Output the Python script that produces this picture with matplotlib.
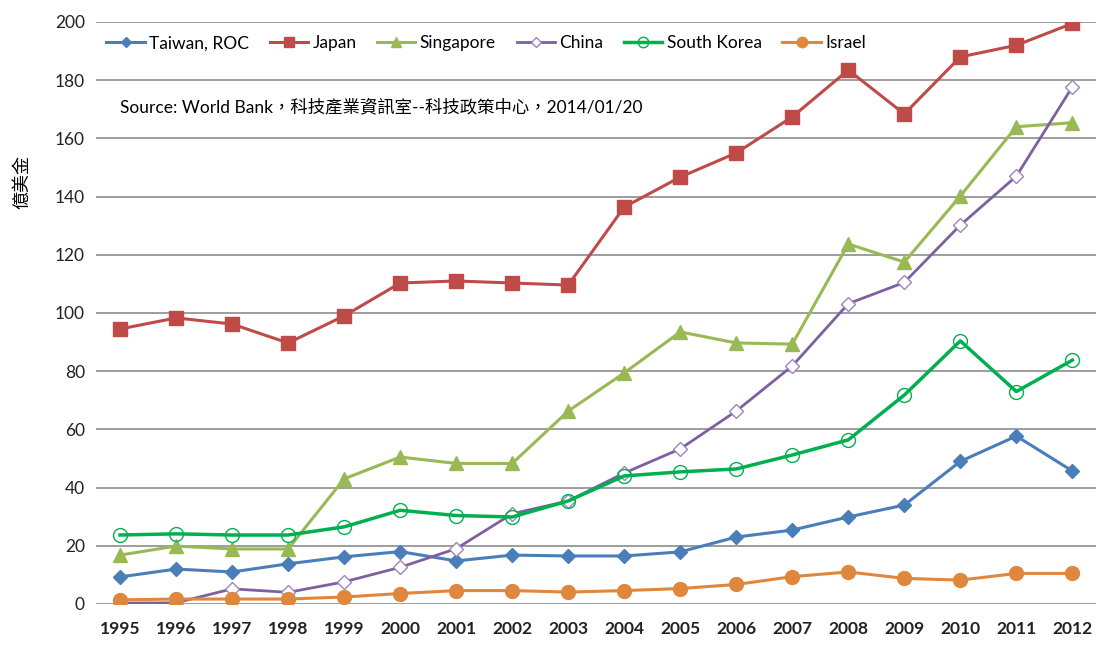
import matplotlib
matplotlib.use("Agg")
import matplotlib.pyplot as plt

years = list(range(1995, 2013))
taiwan = [9.3, 12.0, 11.0, 13.8, 16.2, 18.0, 14.8, 16.8, 16.5, 16.5, 17.9, 23.0, 25.4, 29.9, 34.0, 49.0, 57.7, 45.7]
japan = [94.5, 98.3, 96.2, 89.7, 99.0, 110.3, 111.0, 110.3, 109.6, 136.4, 146.7, 155.0, 167.4, 183.5, 168.4, 188.0, 192.0, 199.5]
singapore = [16.8, 19.9, 18.9, 18.9, 43.0, 50.5, 48.3, 48.3, 66.3, 79.4, 93.5, 89.7, 89.3, 123.7, 117.5, 140.2, 164.0, 165.4]
china = [0.3, 0.4, 5.2, 4.0, 7.6, 12.6, 19.0, 31.0, 35.4, 45.0, 53.3, 66.3, 81.8, 103.2, 110.5, 130.2, 147.0, 177.7]
korea = [23.7, 24.1, 23.7, 23.7, 26.5, 32.2, 30.4, 29.9, 35.4, 44.0, 45.4, 46.4, 51.2, 56.4, 71.8, 90.4, 73.0, 83.8]
israel = [1.4, 1.7, 1.7, 1.7, 2.4, 3.6, 4.6, 4.6, 4.1, 4.6, 5.3, 6.7, 9.4, 11.0, 8.8, 8.2, 10.5, 10.5]

labels = ["Taiwan, ROC", "Japan", "Singapore", "China", "South Korea", "Israel"]
yticks = [0, 20, 40, 60, 80, 100, 120, 140, 160, 180, 200]

plt.rcParams['font.family'] = ['Lato', 'Noto Sans CJK TC', 'DejaVu Sans']

fig = plt.figure(figsize=(10.97, 6.45), dpi=100)
ax = fig.add_axes([0.0875, 0.0636, 0.912, 0.9023])

ax.plot(years, taiwan, color='#4A7EBB', lw=2.2, marker='D', ms=7, label=labels[0])
ax.plot(years, japan, color='#BE4B48', lw=2.2, marker='s', ms=10, label=labels[1])
ax.plot(years, singapore, color='#98B954', lw=2.2, marker='^', ms=10, label=labels[2])
ax.plot(years, china, color='#7D60A0', lw=2.0, marker='D', ms=7, mfc='white', mec='#9C85C0', label=labels[3])
ax.plot(years, korea, color='#00B050', lw=2.5, marker='o', ms=10, mfc='none', mec='#00B050', label=labels[4])
ax.plot(years, israel, color='#E0873E', lw=2.2, marker='o', ms=10, label=labels[5])

ax.set_xlim(1994.57, 2012.43)
ax.set_ylim(0, 200)
ax.set_xticks(years)
ax.set_xticklabels([str(y) for y in years], fontsize=12.5, fontweight='bold', color='#222222')
ax.set_yticks(yticks)
ax.set_yticklabels([str(v) for v in yticks], fontsize=12.5, color='#222222')
ax.tick_params(length=0, pad=8)
ax.tick_params(axis='x', pad=12)
ax.grid(axis='y', color='#8C8C8C', lw=1.2)
ax.set_axisbelow(True)
for s in ax.spines.values():
    s.set_visible(False)

ax.set_ylabel('億美金', fontsize=13)
ax.yaxis.set_label_coords(-0.066, 0.725)

ax.legend(loc='upper left', bbox_to_anchor=(0.0, 0.995), ncol=6, frameon=False,
          fontsize=12.5, handlelength=2.2, handletextpad=0.25, columnspacing=1.2,
          borderaxespad=0.2, markerscale=0.75)

ax.text(0.024, 0.855, 'Source: World Bank，科技產業資訊室--科技政策中心，2014/01/20',
        transform=ax.transAxes, fontsize=12.5, va='center', ha='left')

fig.savefig('out.png', dpi=100)
